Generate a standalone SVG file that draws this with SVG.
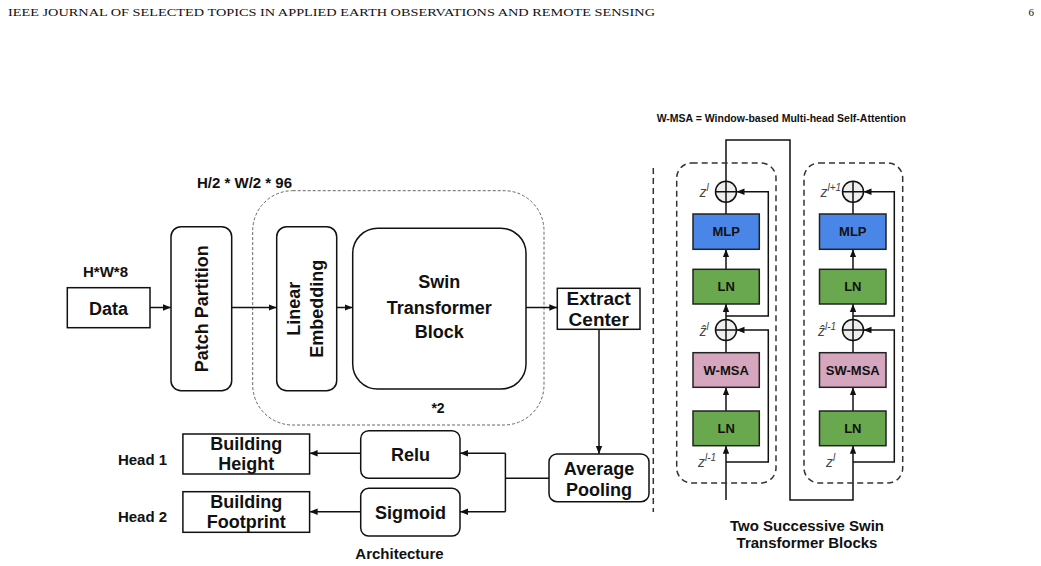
<svg xmlns="http://www.w3.org/2000/svg" width="1041" height="566" viewBox="0 0 1041 566">
<style>
.hdr{font-family:"Liberation Serif","Times New Roman",serif;font-size:11px;fill:#111}
.t{font-family:"Liberation Sans",Arial,sans-serif;font-weight:bold;fill:#111;text-anchor:middle}
.box{fill:#fff;stroke:#111;stroke-width:1.5}
.ln{fill:none;stroke:#111;stroke-width:1.5}
.arr{fill:none;stroke:#111;stroke-width:1.5;marker-end:url(#ah)}
.mlp{fill:#4a86e8;stroke:#222;stroke-width:1.5}
.lnb{fill:#6aa84f;stroke:#222;stroke-width:1.5}
.msa{fill:#d5a6bd;stroke:#222;stroke-width:1.5}
.sum{fill:#eeeeee;stroke:#111;stroke-width:1.5}
.dash{fill:none;stroke:#333;stroke-width:1.5;stroke-dasharray:6 4}
.z{font-family:"Liberation Sans",Arial,sans-serif;font-style:italic;font-size:14px;fill:#444}
.sup{font-size:10px}
</style>
<defs>
<marker id="ah" viewBox="0 0 10 10" refX="10" refY="5" markerWidth="8" markerHeight="8" markerUnits="userSpaceOnUse" orient="auto">
<path d="M0,1 L10,5 L0,9 z" fill="#111"/>
</marker>
</defs>
<rect width="1041" height="566" fill="#fff"/>
<text class="hdr" x="8" y="16" textLength="647" lengthAdjust="spacingAndGlyphs">IEEE JOURNAL OF SELECTED TOPICS IN APPLIED EARTH OBSERVATIONS AND REMOTE SENSING</text>
<text class="hdr" x="1034" y="16" text-anchor="end">6</text>

<!-- Architecture -->
<g id="stage-group">
<rect x="252.7" y="190.7" width="291.3" height="234.3" rx="40" fill="none" stroke="#666" stroke-width="1" stroke-dasharray="3 2"/>
<text class="t" x="244.5" y="188.3" font-size="15">H/2 * W/2 * 96</text>
<text class="t" x="438" y="413" font-size="14">*2</text>
</g>
<g id="data">
<text class="t" x="105.5" y="277.3" font-size="15">H*W*8</text>
<rect class="box" x="67.3" y="287.7" width="82.7" height="40"/>
<text class="t" x="108.6" y="314.5" font-size="18">Data</text>
</g>
<g id="patch-partition">
<rect class="box" x="171" y="226.7" width="60.7" height="164" rx="10"/>
<text class="t" font-size="18" transform="translate(207.5,308.7) rotate(-90)">Patch Partition</text>
</g>
<g id="linear-embedding">
<rect class="box" x="276.7" y="226.7" width="60" height="164" rx="10"/>
<text class="t" font-size="18" transform="translate(299.5,308.7) rotate(-90)">Linear</text>
<text class="t" font-size="18" transform="translate(322.5,308.7) rotate(-90)">Embedding</text>
</g>
<g id="swin-block">
<rect class="box" x="352.7" y="228.3" width="173.3" height="160.7" rx="25"/>
<text class="t" x="439.3" y="288.3" font-size="18">Swin</text>
<text class="t" x="439.3" y="314" font-size="18">Transformer</text>
<text class="t" x="439.3" y="338.3" font-size="18">Block</text>
</g>
<g id="extract-center">
<rect class="box" x="557.3" y="288.3" width="82.7" height="41"/>
<text class="t" x="598.7" y="305" font-size="19">Extract</text>
<text class="t" x="598.7" y="326" font-size="19">Center</text>
</g>
<g id="average-pooling">
<rect class="box" x="549" y="454" width="100" height="47.7" rx="8"/>
<text class="t" x="599" y="475" font-size="18">Average</text>
<text class="t" x="599" y="496" font-size="18">Pooling</text>
</g>
<g id="relu">
<rect class="box" x="360.7" y="430.7" width="99.3" height="47.6" rx="8"/>
<text class="t" x="410.4" y="461.3" font-size="18">Relu</text>
</g>
<g id="sigmoid">
<rect class="box" x="360.7" y="488.3" width="99.3" height="47.7" rx="8"/>
<text class="t" x="410.4" y="519" font-size="18">Sigmoid</text>
</g>
<g id="building-height">
<rect class="box" x="182.9" y="434" width="126.7" height="40"/>
<text class="t" x="246.2" y="449.5" font-size="18">Building</text>
<text class="t" x="246.2" y="470" font-size="18">Height</text>
<text class="t" x="142.5" y="464.5" font-size="15">Head 1</text>
</g>
<g id="building-footprint">
<rect class="box" x="182.9" y="491.7" width="126.7" height="40.6"/>
<text class="t" x="246.2" y="507.5" font-size="18">Building</text>
<text class="t" x="246.2" y="528" font-size="18">Footprint</text>
<text class="t" x="142.5" y="522" font-size="15">Head 2</text>
</g>
<text class="t" x="399.5" y="558.5" font-size="15">Architecture</text>

<g id="connectors">
<path class="arr" d="M150,307.5 H171"/>
<path class="arr" d="M231.7,307.5 H276.7"/>
<path class="arr" d="M336.7,307.5 H352.7"/>
<path class="arr" d="M526,307.5 H557.3"/>
<path class="arr" d="M599,329.3 V454"/>
<path class="ln" d="M549,478.3 H505.4"/>
<path class="ln" d="M505.4,453.3 V511.7"/>
<path class="arr" d="M505.4,453.3 H460"/>
<path class="arr" d="M505.4,511.7 H460"/>
<path class="arr" d="M360.7,453.3 H309.6"/>
<path class="arr" d="M360.7,511.7 H309.6"/>

<!-- right panel: left block -->
<path class="arr" d="M726,500 V445.7"/>
<path class="arr" d="M726,411 V387.3"/>
<path class="ln" d="M726,352.7 V340.5"/>
<path class="arr" d="M726,319.5 V304"/>
<path class="arr" d="M726,269.3 V249.3"/>
<path class="ln" d="M726,214 V202.2"/>
<path class="arr" d="M726,181.2 V140 H790 V500 H853 V445.7"/>
<path class="arr" d="M726,462 H768.3 V330 H736.5"/>
<path class="arr" d="M726,316 H768.3 V191.7 H736.5"/>
<!-- right block -->
<path class="arr" d="M853,411 V387.3"/>
<path class="ln" d="M853,352.7 V340.5"/>
<path class="arr" d="M853,319.5 V304"/>
<path class="arr" d="M853,269.3 V249.3"/>
<path class="ln" d="M853,214 V202.2"/>
<path class="arr" d="M853,462 H894.3 V330 H863.5"/>
<path class="arr" d="M853,316 H894.3 V191.7 H863.5"/>
</g>

<!-- right panel -->
<text class="t" x="781.3" y="121.7" font-size="10.5">W-MSA = Window-based Multi-head Self-Attention</text>
<line x1="653.3" y1="168" x2="653.3" y2="512" class="dash"/>
<g id="block-1">
<rect class="dash" x="676.7" y="163" width="99.3" height="320" rx="15"/>
<g id="sum-1a">
<circle class="sum" cx="726" cy="191.7" r="10.5"/>
<path class="ln" d="M715.5,191.7 H736.5 M726,181.2 V202.2"/>
</g>
<g id="mlp-1"><rect class="mlp" x="693" y="214" width="66.3" height="35.3"/><text class="t" x="726.2" y="236.2" font-size="13">MLP</text></g>
<g id="ln-1b"><rect class="lnb" x="693" y="269.3" width="66.3" height="34.7"/><text class="t" x="726.2" y="291.3" font-size="13">LN</text></g>
<g id="sum-1b">
<circle class="sum" cx="726" cy="330" r="10.5"/>
<path class="ln" d="M715.5,330 H736.5 M726,319.5 V340.5"/>
</g>
<g id="wmsa"><rect class="msa" x="693" y="352.7" width="66.3" height="34.6"/><text class="t" x="726.2" y="374.7" font-size="13">W-MSA</text></g>
<g id="ln-1a"><rect class="lnb" x="693" y="411" width="66.3" height="34.7"/><text class="t" x="726.2" y="433" font-size="13">LN</text></g>
<text class="z" x="699.5" y="197">z<tspan class="sup" dy="-6">l</tspan></text>
<text class="z" x="699.5" y="336">ẑ<tspan class="sup" dy="-6">l</tspan></text>
<text class="z" x="698" y="467">z<tspan class="sup" dy="-6">l-1</tspan></text>
</g>
<g id="block-2">
<rect class="dash" x="804" y="163" width="98.7" height="320" rx="15"/>
<g id="sum-2a">
<circle class="sum" cx="853" cy="191.7" r="10.5"/>
<path class="ln" d="M842.5,191.7 H863.5 M853,181.2 V202.2"/>
</g>
<g id="mlp-2"><rect class="mlp" x="819.5" y="214" width="66.5" height="35.3"/><text class="t" x="852.8" y="236.2" font-size="13">MLP</text></g>
<g id="ln-2b"><rect class="lnb" x="819.5" y="269.3" width="66.5" height="34.7"/><text class="t" x="852.8" y="291.3" font-size="13">LN</text></g>
<g id="sum-2b">
<circle class="sum" cx="853" cy="330" r="10.5"/>
<path class="ln" d="M842.5,330 H863.5 M853,319.5 V340.5"/>
</g>
<g id="swmsa"><rect class="msa" x="819.5" y="352.7" width="66.5" height="34.6"/><text class="t" x="852.8" y="374.7" font-size="13">SW-MSA</text></g>
<g id="ln-2a"><rect class="lnb" x="819.5" y="411" width="66.5" height="34.7"/><text class="t" x="852.8" y="433" font-size="13">LN</text></g>
<text class="z" x="820.5" y="197">z<tspan class="sup" dy="-6">l+1</tspan></text>
<text class="z" x="818" y="336">ẑ<tspan class="sup" dy="-6">l-1</tspan></text>
<text class="z" x="826" y="467">z<tspan class="sup" dy="-6">l</tspan></text>
</g>
<text class="t" x="807" y="531" font-size="15">Two Successive Swin</text>
<text class="t" x="807" y="548.3" font-size="15">Transformer Blocks</text>
</svg>
